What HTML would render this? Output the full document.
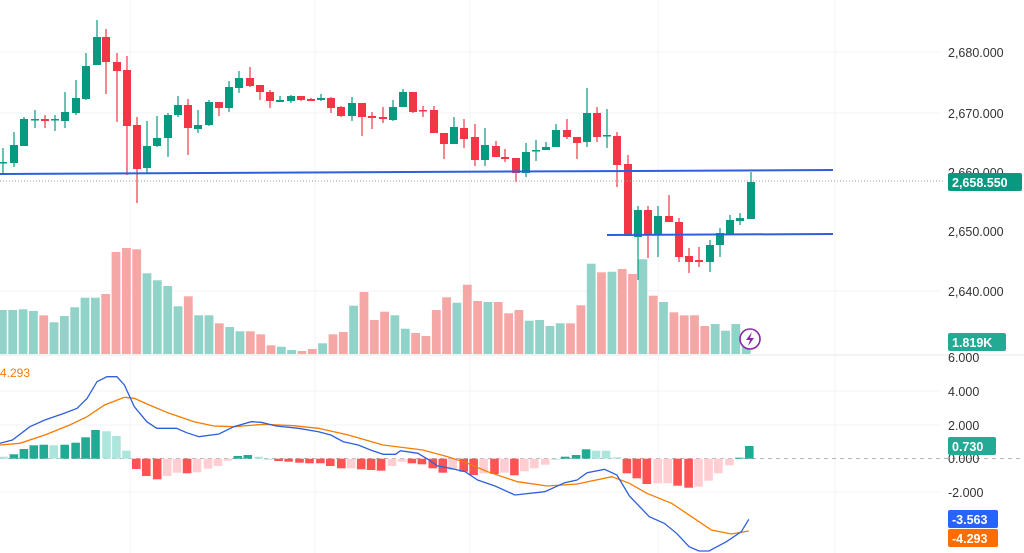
<!DOCTYPE html>
<html><head><meta charset="utf-8">
<style>
html,body{margin:0;padding:0;background:#fff;width:1024px;height:553px;overflow:hidden}
svg{display:block}
text{font-family:"Liberation Sans",sans-serif}
</style></head>
<body>
<svg id="s" width="1024" height="553" viewBox="0 0 1024 553" xmlns="http://www.w3.org/2000/svg"></svg>
<script>
const s=document.getElementById('s');let h='';
// grid
[[0,52],[0,113],[0,291],[0,391],[0,425],[0,492]].forEach(g=>{h+=`<line x1="0" y1="${g[1]}" x2="940" y2="${g[1]}" stroke="#f2f3f5" stroke-width="1"/>`});
[130,315,470,658,835].forEach(x=>{h+=`<line x1="${x}" y1="0" x2="${x}" y2="553" stroke="#f2f3f5" stroke-width="1"/>`});
// volume
const vt=[240,240,238,243,256,277,258,232,203,203,192,66,54,58,130,151,168,229,199,256,256,280,291,304,304,313,346,350,360,363,357,340,313,306,227,186,270,245,256,296,309,318,240,202,218,164,213,216,216,250,240,272,270,288,280,280,226,101,127,125,117,132,88,197,216,247,256,256,288,282,302,282,342];
const vc="gggrgggggrrrrgggggrggrggrrrggrrgrgrrrggrrrrrgrrgrrrgggggrrgrgrrgrgrrrrgggg";
const cc=['g','g','g','g','r','g','g','g','g','g','r','r','r','r','g','g','g','g','r','g','g','r','g','g','r','r','r','g','g','r','r','g','r','r','g','r','r','r','g','g','r','r','r','r','g','r','r','g','r','r','r','g','g','g','g','r','r','g','r','g','r','r','g','r','g','r','r','r','r','g','g','g','g'];
vt.forEach((t,i)=>{const x=2.4+i*10.33;const y=230+t/3;h+=`<rect x="${(x-4.4).toFixed(1)}" y="${y.toFixed(1)}" width="8.8" height="${(354-y).toFixed(1)}" fill="${cc[i]=='g'?'#92d3c9':'#f5a7a6'}"/>`});
h+=`<line x1="0" y1="355" x2="1024" y2="355" stroke="#e6e7ea"/>`;
// candles x,bodyTop,bodyBot,wickTop,wickBot,color
const C=[[3,162,163,148,175,'g'],[14,145,163,132,167,'g'],[24,119,146,117,146,'g'],[35,119,120,110,128,'g'],[45,119,121,115,128,'r'],[55,119,120,115,131,'g'],[65,112,121,92,128,'g'],[76,98,113,80,115,'g'],[86,66,99,53,100,'g'],[97,37,65,20,65,'g'],[106,37,62,29,94,'r'],[117,62,71,53,122,'r'],[127,70,126,56,175,'r'],[137,125,169,117,203,'r'],[147,146,168,121,173,'g'],[157,138,146,116,147,'g'],[168,115,138,113,157,'g'],[178,105,115,96,117,'g'],[188,105,128,99,155,'r'],[198,125,129,110,133,'g'],[209,102,125,100,126,'g'],[219,102,108,102,116,'r'],[229,87,108,81,112,'g'],[239,78,88,71,93,'g'],[250,78,86,67,87,'r'],[260,85,92,85,100,'r'],[270,92,101,90,108,'r'],[280,100,102,96,102,'g'],[291,96,101,95,103,'g'],[301,96,100,96,101,'r'],[311,99,101,98,101,'r'],[321,98,100,94,101,'g'],[331,98,108,97,113,'r'],[341,107,116,106,117,'r'],[352,103,116,97,121,'g'],[362,103,117,103,136,'r'],[372,116,118,112,129,'r'],[383,117,119,107,123,'r'],[393,107,120,100,121,'g'],[403,92,107,89,107,'g'],[413,92,112,92,113,'r'],[423,110,111,106,117,'r'],[434,110,133,106,133,'r'],[444,133,144,133,159,'r'],[454,127,144,117,144,'g'],[464,128,139,119,148,'r'],[475,137,160,124,166,'r'],[485,145,160,128,166,'g'],[496,146,157,141,157,'r'],[505,157,159,149,162,'r'],[516,158,173,158,182,'r'],[526,152,173,143,177,'g'],[536,150,151,140,161,'g'],[546,147,150,142,150,'g'],[556,130,147,124,147,'g'],[567,130,137,119,139,'r'],[577,137,143,137,159,'r'],[587,113,142,88,147,'g'],[597,113,137,107,142,'r'],[607,135,136,109,148,'g'],[617,136,165,132,187,'r'],[628,164,236,155,236,'r'],[638,210,237,206,280,'g'],[648,210,234,206,258,'r'],[658,216,234,206,257,'g'],[669,216,222,195,222,'r'],[679,222,257,218,262,'r'],[689,256,262,248,273,'r'],[699,260,262,247,267,'r'],[710,245,262,240,272,'g'],[720,233,245,228,257,'g'],[730,220,234,215,234,'g'],[740,218,221,213,225,'g'],[751,182,219,172,219,'g']];
C.forEach(c=>{const col=c[5]=='g'?'#089981':'#f23645';h+=`<line x1="${c[0]}" y1="${c[3]}" x2="${c[0]}" y2="${c[4]}" stroke="${col}" stroke-width="1.2"/><rect x="${c[0]-4}" y="${c[1]}" width="8" height="${Math.max(1.5,c[2]-c[1])}" fill="${col}"/>`});
// lines
h+=`<line x1="0" y1="181" x2="945" y2="181" stroke="#9aa0a6" stroke-width="1" stroke-dasharray="1,2"/>`;
h+=`<line x1="0" y1="174" x2="833" y2="170" stroke="#2f5fdb" stroke-width="2"/>`;
h+=`<line x1="607" y1="235" x2="833" y2="234" stroke="#2f5fdb" stroke-width="2"/>`;
// lightning
h+=`<circle cx="750" cy="339" r="10" fill="#fff" stroke="#8e24aa" stroke-width="1.6"/><path d="M752 332 L746 340 L750 340 L748 346 L754 338 L750 338 Z" fill="#8e24aa"/>`;
// macd hist
h+=`<line x1="0" y1="458.5" x2="1024" y2="458.5" stroke="#b2b5be" stroke-dasharray="4,4"/>`;
const H=[[8,290,'G'],[28,283,'g'],[48,267,'g'],[68,256,'g'],[88,254,'g'],[108,256,'G'],[130,254,'g'],[152,248,'g'],[172,232,'g'],[192,210,'g'],[214,214,'G'],[234,228,'G'],[254,272,'G'],[274,327,'r'],[294,348,'r'],[316,358,'r'],[336,348,'p'],[356,338,'p'],[376,340,'r'],[396,337,'p'],[418,326,'p'],[438,318,'p'],[458,302,'p'],[478,288,'g'],[498,285,'g'],[520,290,'G'],[540,298,'G'],[560,303,'r'],[580,305,'r'],[602,308,'r'],[622,310,'r'],[644,310,'r'],[664,318,'r'],[686,325,'r'],[706,325,'p'],[726,328,'r'],[746,330,'r'],[766,332,'r'],[788,318,'p'],[808,305,'p'],[828,310,'r'],[848,313,'r'],[870,325,'r'],[890,338,'r'],[910,330,'p'],[932,335,'r'],[952,345,'r'],[972,340,'p'],[994,342,'r'],[1014,338,'p'],[1034,346,'r'],[1054,334,'p'],[1074,325,'p'],[1096,314,'p'],[1116,298,'G'],[1136,290,'g'],[1158,285,'g'],[1178,268,'g'],[1198,272,'G'],[1218,272,'G'],[1240,292,'G'],[1260,340,'r'],[1280,355,'r'],[1300,372,'r'],[1322,370,'p'],[1342,370,'p'],[1362,377,'r'],[1384,383,'r'],[1404,380,'p'],[1424,362,'p'],[1444,340,'p'],[1466,316,'p'],[1486,293,'g'],[1506,258,'g']];
const HC={g:'#22ab94',G:'#ace5dc',r:'#ff5252',p:'#ffcdd2'};
H.forEach(b=>{const x=b[0]/2.01;const y=360+b[1]/3;const z=458.7;const t=Math.min(y,z),hh=Math.abs(y-z);h+=`<rect x="${(x-4.3).toFixed(1)}" y="${t.toFixed(1)}" width="8.6" height="${Math.max(1,hh).toFixed(1)}" fill="${HC[b[2]]}"/>`});
const B=[[0,250],[25,240],[60,200],[90,180],[125,162],[155,145],[175,115],[195,65],[215,50],[235,50],[250,75],[270,140],[295,185],[315,205],[355,205],[375,218],[400,230],[440,222],[470,200],[505,185],[525,187],[555,198],[600,205],[640,215],[665,225],[690,245],[720,255],[745,270],[770,283],[795,283],[805,272],[840,280],[860,298],[880,318],[905,325],[935,335],[960,360],[995,378],[1035,405],[1095,395],[1135,368],[1160,360],[1180,338],[1215,328],[1240,345],[1265,408],[1305,470],[1335,490],[1360,520],[1385,560],[1405,573],[1425,573],[1460,545],[1490,515],[1505,478]];
const O=[[0,255],[40,250],[90,225],[140,195],[175,170],[210,135],[250,112],[270,115],[300,135],[340,160],[390,185],[430,198],[470,200],[530,193],[590,197],[640,205],[700,225],[770,255],[850,270],[900,290],[940,310],[980,335],[1040,365],[1100,378],[1160,372],[1230,350],[1265,370],[1300,400],[1350,430],[1395,475],[1430,510],[1470,522],[1505,513]];
const pl=a=>a.map(p=>(p[0]/2.01).toFixed(1)+','+(360+p[1]/3).toFixed(1)).join(' ');
h+=`<polyline points="${pl(O)}" fill="none" stroke="#f57c00" stroke-width="1.3"/>`;
h+=`<polyline points="${pl(B)}" fill="none" stroke="#2f5fdb" stroke-width="1.3"/>`;
h+=`<text x="0" y="377" font-size="12" fill="#f57c00">4.293</text>`;
// axis labels
const L=[['2,690.000',-3],['2,680.000',57],['2,670.000',118],['2,650.000',236],['2,640.000',296],['6.000',362],['4.000',396],['2.000',430],['0.000',463],['-2.000',497]];
L.forEach(l=>{h+=`<text x="948" y="${l[1]}" font-size="12.5" fill="#333">${l[0]}</text>`});
h+=`<text x="948" y="177" font-size="12.5" fill="#333">2,660.000</text>`;
const T=[[948,173,74,18,'#089981','2,658.550'],[948,333,58,18,'#22ab94','1.819K'],[948,437,48,18,'#22ab94','0.730'],[948,510,50,18,'#2962ff','-3.563'],[948,529,50,18,'#ff6d00','-4.293']];
T.forEach(t=>{h+=`<rect x="${t[0]}" y="${t[1]}" width="${t[2]}" height="${t[3]}" rx="2" fill="${t[4]}"/><text x="${t[0]+4}" y="${t[1]+14}" font-size="12.5" font-weight="bold" fill="#fff">${t[5]}</text>`});
s.innerHTML=h;
</script>
</body></html>
